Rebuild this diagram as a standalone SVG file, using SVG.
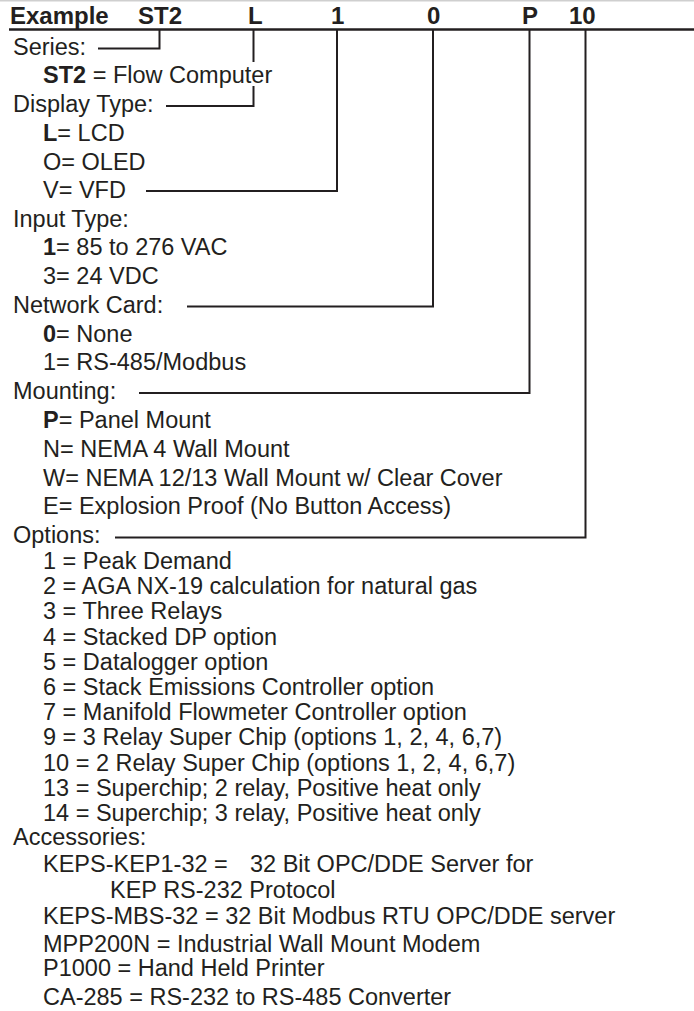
<svg xmlns="http://www.w3.org/2000/svg" width="694" height="1011" viewBox="0 0 694 1011">
<style>
text{font-family:"Liberation Sans",Arial,Helvetica,sans-serif;font-size:23.5px;fill:#231f20}
.hd{font-weight:bold;font-size:24px}
.b{font-weight:bold}
.cn{fill:none;stroke:#231f20;stroke-width:2;stroke-linejoin:miter;stroke-linecap:butt}
</style>
<rect width="694" height="1011" fill="#fff"/>
<line x1="0" y1="0.75" x2="694" y2="0.75" stroke="#cfcfcf" stroke-width="1.5"/>
<g id="header">
<text class="hd" x="10" y="24">Example</text>
<text class="hd" x="138" y="24">ST2</text>
<text class="hd" x="248" y="24">L</text>
<text class="hd" x="331" y="24">1</text>
<text class="hd" x="427" y="24">0</text>
<text class="hd" x="522" y="24">P</text>
<text class="hd" x="569" y="24">10</text>
<line x1="9" y1="29.5" x2="694" y2="29.5" stroke="#231f20" stroke-width="2.5"/>
</g>
<g id="series">
<text x="13" y="54.5">Series:</text>
<text x="43" y="83"><tspan class="b">ST2</tspan> = Flow Computer</text>
</g>
<g id="display">
<text x="13" y="112">Display Type:</text>
<text x="43" y="141"><tspan class="b">L</tspan>= LCD</text>
<text x="43" y="169.5">O= OLED</text>
<text x="43" y="198">V= VFD</text>
</g>
<g id="input">
<text x="13" y="226.5">Input Type:</text>
<text x="43" y="255"><tspan class="b">1</tspan>= 85 to 276 VAC</text>
<text x="43" y="283.5">3= 24 VDC</text>
</g>
<g id="network">
<text x="13" y="312.5">Network Card:</text>
<text x="43" y="341.5"><tspan class="b">0</tspan>= None</text>
<text x="43" y="370">1= RS-485/Modbus</text>
</g>
<g id="mounting">
<text x="13" y="399">Mounting:</text>
<text x="43" y="428"><tspan class="b">P</tspan>= Panel Mount</text>
<text x="43" y="456.5">N= NEMA 4 Wall Mount</text>
<text x="43" y="485.5">W= NEMA 12/13 Wall Mount w/ Clear Cover</text>
<text x="43" y="514">E= Explosion Proof (No Button Access)</text>
</g>
<g id="options">
<text x="13" y="543">Options:</text>
<text x="43" y="569">1 = Peak Demand</text>
<text x="43" y="594.2">2 = AGA NX-19 calculation for natural gas</text>
<text x="43" y="619.4">3 = Three Relays</text>
<text x="43" y="644.6">4 = Stacked DP option</text>
<text x="43" y="669.8">5 = Datalogger option</text>
<text x="43" y="695">6 = Stack Emissions Controller option</text>
<text x="43" y="720.2">7 = Manifold Flowmeter Controller option</text>
<text x="43" y="745.4">9 = 3 Relay Super Chip (options 1, 2, 4, 6,7)</text>
<text x="43" y="770.6">10 = 2 Relay Super Chip (options 1, 2, 4, 6,7)</text>
<text x="43" y="795.8">13 = Superchip; 2 relay, Positive heat only</text>
<text x="43" y="821">14 = Superchip; 3 relay, Positive heat only</text>
</g>
<g id="accessories">
<text x="13" y="845">Accessories:</text>
<text x="43" y="872">KEPS-KEP1-32 =<tspan x="250">32 Bit OPC/DDE Server for</tspan></text>
<text x="110" y="898">KEP RS-232 Protocol</text>
<text x="43" y="923.5">KEPS-MBS-32 = 32 Bit Modbus RTU OPC/DDE server</text>
<text x="43" y="952">MPP200N = Industrial Wall Mount Modem</text>
<text x="43" y="976">P1000 = Hand Held Printer</text>
<text x="43" y="1005">CA-285 = RS-232 to RS-485 Converter</text>
</g>
<g id="connectors">
<path class="cn" d="M159.5 30V48.5H98"/>
<path class="cn" d="M253.5 30V62"/>
<path class="cn" d="M253.5 86V106H166"/>
<path class="cn" d="M337 30V191H146"/>
<path class="cn" d="M433 30V306.5H187"/>
<path class="cn" d="M529.5 30V393H139"/>
<path class="cn" d="M585.5 30V537.5H115"/>
</g>
</svg>
